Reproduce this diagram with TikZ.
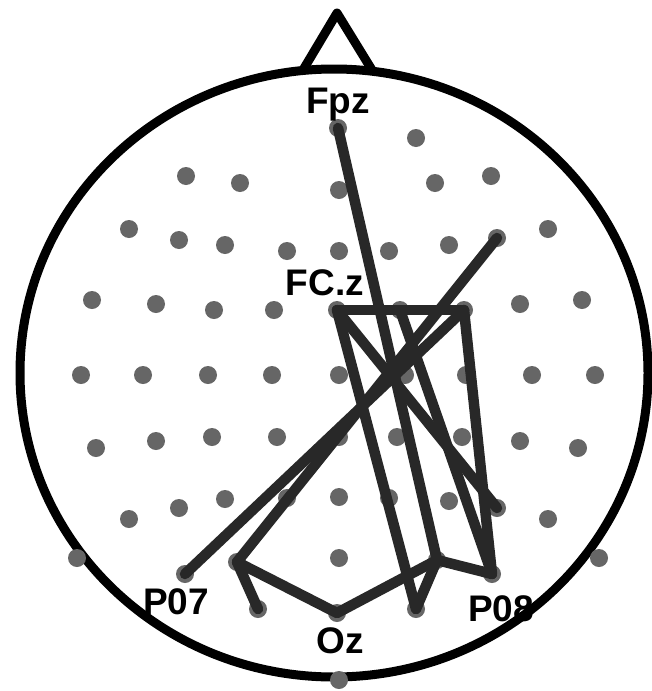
\documentclass[tikz,border=0pt]{standalone}
\usepackage{fontspec}
\setmainfont{Liberation Sans}
\usepackage{tikz}
\usetikzlibrary{positioning}
\definecolor{dotgray}{RGB}{102,102,102}
\definecolor{linkgray}{RGB}{40,40,40}

\begin{document}
\begin{tikzpicture}[
  x=1pt, y=-1pt,
  head/.style={draw=black, line width=9pt, line join=round},
  elec/.style={circle, fill=dotgray, inner sep=0pt, minimum size=18pt},
  link/.style={draw=linkgray, line width=10.5pt, line cap=round, line join=round},
  lbl/.style={font=\fontsize{37}{37}\selectfont\bfseries, inner sep=0pt, anchor=base}
]
\fill[white] (0,0) rectangle (652,691);
\useasboundingbox (0,0) rectangle (652,691);
\draw[head] (334,373) ellipse [x radius=314, y radius=304];
\draw[head] (303,70) -- (337,13) -- (372,70);
\foreach \x/\y [count=\i] in {416/138,
  186/176,240/183,339/190,435/183,491/176,
  129/229,179/240,225/245,287/251,339/251,389/251,449/245,548/229,
  92/300,156/304,214/310,274/310,520/304,582/300,
  81/375,143/375,208/375,272/375,339/375,405/375,466/375,532/375,595/375,
  96/448,156/441,212/437,277/437,339/437,397/437,462/437,520/441,578/448,
  129/519,179/508,225/499,287/498,339/497,389/498,449/501,548/519,
  77/558,339/558,599/558,339/680}
  \node[elec] (e\i) at (\x,\y) {};
\node[elec] (Fpz) at (338,128) {};
\node[elec] (F6) at (497,238) {};
\node[elec] (FCz) at (337,310) {};
\node[elec] (FC2) at (400,310) {};
\node[elec] (FC4) at (464,310) {};
\node[elec] (P6) at (497,508) {};
\node[elec] (PO7) at (185,574) {};
\node[elec] (PO3) at (237,562) {};
\node[elec] (PO4) at (437,560) {};
\node[elec] (PO8) at (492,574) {};
\node[elec] (O1) at (258,609) {};
\node[elec] (Oz) at (337,613) {};
\node[elec] (O2) at (416,609) {};
\draw[link] (Fpz.center)--(PO4.center); \draw[link] (FCz.center)--(FC4.center);
\draw[link] (FC4.center)--(PO8.center); \draw[link] (FC4.center)--(PO7.center);
\draw[link] (F6.center)--(PO3.center); \draw[link] (FCz.center)--(O2.center);
\draw[link] (FCz.center)--(P6.center); \draw[link] (FC2.center)--(PO8.center);
\draw[link] (PO4.center)--(PO8.center); \draw[link] (PO4.center)--(O2.center);
\draw[link] (Oz.center)--(PO4.center); \draw[link] (PO3.center)--(Oz.center);
\draw[link] (PO3.center)--(O1.center);
\node[lbl] (FpzL) at (338,113) {Fpz};
\node[lbl] (FCzL) at (325,295) {FC.z};
\node[lbl] (PO7L) at (176,614) {P07};
\node[lbl] (OzL) at (340,653) {Oz};
\node[lbl] (PO8L) at (501,621) {P08};
\end{tikzpicture}
\end{document}
